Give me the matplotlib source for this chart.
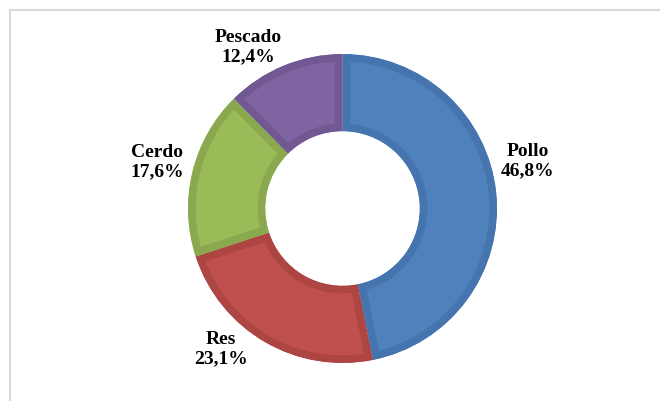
import matplotlib
matplotlib.use('Agg')
import matplotlib.pyplot as plt
from matplotlib.lines import Line2D

# data
categories = ["Pollo", "Res", "Cerdo", "Pescado"]
shares = [46.8, 23.1, 17.6, 12.4]
fill_colors = ["#4F81BD", "#C0504D", "#9BBB59", "#8064A2"]
edge_colors = ["#4574AE", "#AD4643", "#8AA84D", "#715893"]
label_pos = [(1.197, 0.314), (-0.786, -0.903), (-1.201, 0.307), (-0.612, 1.052)]

W, H = 660, 402
fig = plt.figure(figsize=(W / 100, H / 100), dpi=100)
ax = fig.add_axes([0, 0, 1, 1])

wedges, _ = ax.pie(shares, colors=fill_colors, startangle=90, counterclock=False,
                   radius=1.0, wedgeprops=dict(width=0.5, linewidth=11))

# centre of the donut in pixels and outer radius (pie resets limits, so set after)
cx, cy, R = 342.5, 209.5, 154.5
ax.set_xlim(-cx / R, (W - cx) / R)
ax.set_ylim(-(H - cy) / R, cy / R)
ax.set_aspect('equal')
ax.axis('off')

# border drawn only inside each wedge (pie turns clipping off, so turn it back on)
for w, ec in zip(wedges, edge_colors):
    w.set_edgecolor(ec)
    w.set_clip_on(True)
    w.set_clip_path(w)

for name, val, (x, y) in zip(categories, shares, label_pos):
    txt = name + "\n" + ("%.1f" % val).replace(".", ",") + "%"
    ax.text(x, y, txt, ha='center', va='center', fontsize=14, fontweight='bold',
            family='Liberation Serif', color='black', linespacing=1.15)

# light frame on left and top
fig.add_artist(Line2D([10.5 / W, 10.5 / W], [0, 1 - 11 / H], transform=fig.transFigure,
                      color='#D9D9D9', linewidth=1.5))
fig.add_artist(Line2D([10.5 / W, 1], [1 - 11 / H, 1 - 11 / H], transform=fig.transFigure,
                      color='#D9D9D9', linewidth=1.5))

fig.savefig('out.png', dpi=100)
